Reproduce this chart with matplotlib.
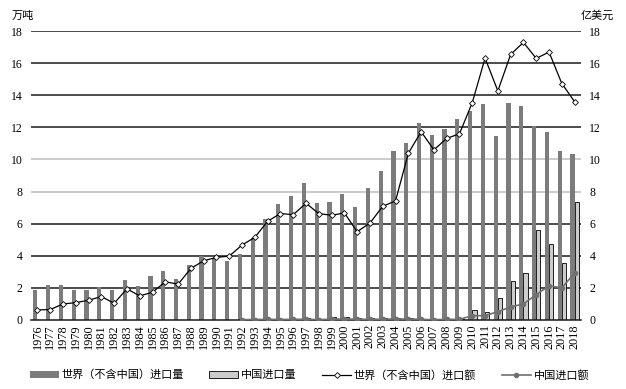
import matplotlib
matplotlib.use("Agg")
import matplotlib.pyplot as plt
import numpy as np
from matplotlib.lines import Line2D
from matplotlib.patches import Patch

years = list(range(1976, 2019))
world_volume = [1.87, 2.15, 2.17, 1.87, 1.87, 2.08, 1.87, 2.50, 2.12, 2.75,
                3.06, 2.58, 3.44, 3.96, 3.88, 3.65, 4.10, 5.10, 6.30, 7.20,
                7.70, 8.55, 7.27, 7.37, 7.87, 7.02, 8.23, 9.25, 10.50, 11.04,
                12.25, 11.50, 11.92, 12.50, 13.00, 13.48, 11.46, 13.54, 13.33, 12.08,
                11.73, 10.52, 10.35]
china_volume = [0, 0, 0, 0, 0, 0, 0, 0, 0, 0,
                0, 0, 0, 0, 0, 0, 0.05, 0.06, 0.08, 0.06,
                0.08, 0.12, 0.06, 0.20, 0.20, 0.15, 0.10, 0.15, 0.15, 0.15,
                0.08, 0.05, 0.08, 0.08, 0.62, 0.50, 1.37, 2.44, 2.94, 5.62,
                4.71, 3.56, 7.37]
world_value = [0.63, 0.65, 1.00, 1.08, 1.23, 1.46, 1.04, 1.94, 1.50, 1.73,
               2.38, 2.23, 3.21, 3.69, 3.90, 3.98, 4.67, 5.15, 6.15, 6.63,
               6.56, 7.27, 6.63, 6.52, 6.67, 5.50, 6.04, 7.08, 7.42, 10.38,
               11.73, 10.60, 11.31, 11.60, 13.54, 16.31, 14.27, 16.54, 17.29, 16.29,
               16.69, 14.73, 13.60]
china_value = [None] * 16 + [0.02, 0.03, 0.04, 0.03,
               0.04, 0.05, 0.02, 0.05, 0.06, 0.05, 0.04, 0.05, 0.06, 0.06,
               0.04, 0.02, 0.04, 0.04, 0.27, 0.27, 0.52, 0.81, 1.00, 1.58,
               2.13, 2.00, 2.92]

labels = ["世界（不含中国）进口量", "中国进口量", "世界（不含中国）进口额", "中国进口额"]

cjk = ["Noto Sans CJK SC", "DejaVu Sans"]
serif = ["Liberation Serif", "DejaVu Serif"]

fig = plt.figure(figsize=(6.26, 3.89), dpi=100)
ax = fig.add_axes([31/626, (389-320)/389, (581-31)/626, (320-31)/389])
ax2 = ax.twinx()

x = np.arange(len(years))
w = 0.33
ax.bar(x - w/2, world_volume, width=w, color="#7c7c7c", zorder=2, linewidth=0)
ax.bar(x + w/2, china_volume, width=w, color="#cccccc", edgecolor="#000000",
       linewidth=0.6, zorder=2)

for lv in range(2, 19, 2):
    col = "#bdbdbd" if lv in (8, 10) else "#1a1a1a"
    ax.axhline(lv, color=col, linewidth=1.1, zorder=1)

cv = np.array([np.nan if v is None else v for v in china_value], dtype=float)
ax2.plot(x, world_value, color="#000000", linewidth=0.9, marker="D", markersize=3,
         markerfacecolor="white", markeredgecolor="#000000", markeredgewidth=0.6, zorder=5)
ax2.plot(x, cv, color="#707070", linewidth=1.2, marker="o", markersize=3,
         markerfacecolor="#707070", markeredgecolor="#707070", zorder=5)

for a in (ax, ax2):
    a.set_ylim(0, 18)
    a.set_yticks(range(0, 19, 2))
    a.set_xlim(-0.5, len(years) - 0.5)
    for s in a.spines.values():
        s.set_visible(False)
    a.tick_params(axis="y", length=0, pad=6, labelsize=8.5)
    for t in a.get_yticklabels():
        t.set_fontfamily(serif)
ax.spines["bottom"].set_visible(True)
ax.spines["bottom"].set_color("#1a1a1a")
ax.spines["bottom"].set_linewidth(1.1)
ax.set_xticks(x)
ax.set_xticklabels([str(y) for y in years], rotation=90, fontsize=8.8, fontfamily=serif)
ax.tick_params(axis="x", length=0, pad=3)
ax2.tick_params(axis="x", length=0)

fig.text(12/626, 1 - 16/389, "万吨", fontsize=8, family=cjk, va="center", ha="left")
fig.text(614/626, 1 - 16/389, "亿美元", fontsize=8, family=cjk, va="center", ha="right")

handles = [
    Patch(facecolor="#7c7c7c", edgecolor="none"),
    Patch(facecolor="#cccccc", edgecolor="#000000", linewidth=0.6),
    Line2D([0], [0], color="#000000", linewidth=0.9, marker="D", markersize=3,
           markerfacecolor="white", markeredgecolor="#000000", markeredgewidth=0.6),
    Line2D([0], [0], color="#707070", linewidth=1.2, marker="o", markersize=3,
           markerfacecolor="#707070", markeredgecolor="#707070"),
]
fig.legend(handles, labels, loc="center", bbox_to_anchor=(309.5/626, 1 - 375/389), ncol=4,
           frameon=False, prop={"family": cjk, "size": 8}, handlelength=2.6,
           handleheight=0.5, handletextpad=0.25, columnspacing=2.3)

fig.savefig("out.png", dpi=100)
